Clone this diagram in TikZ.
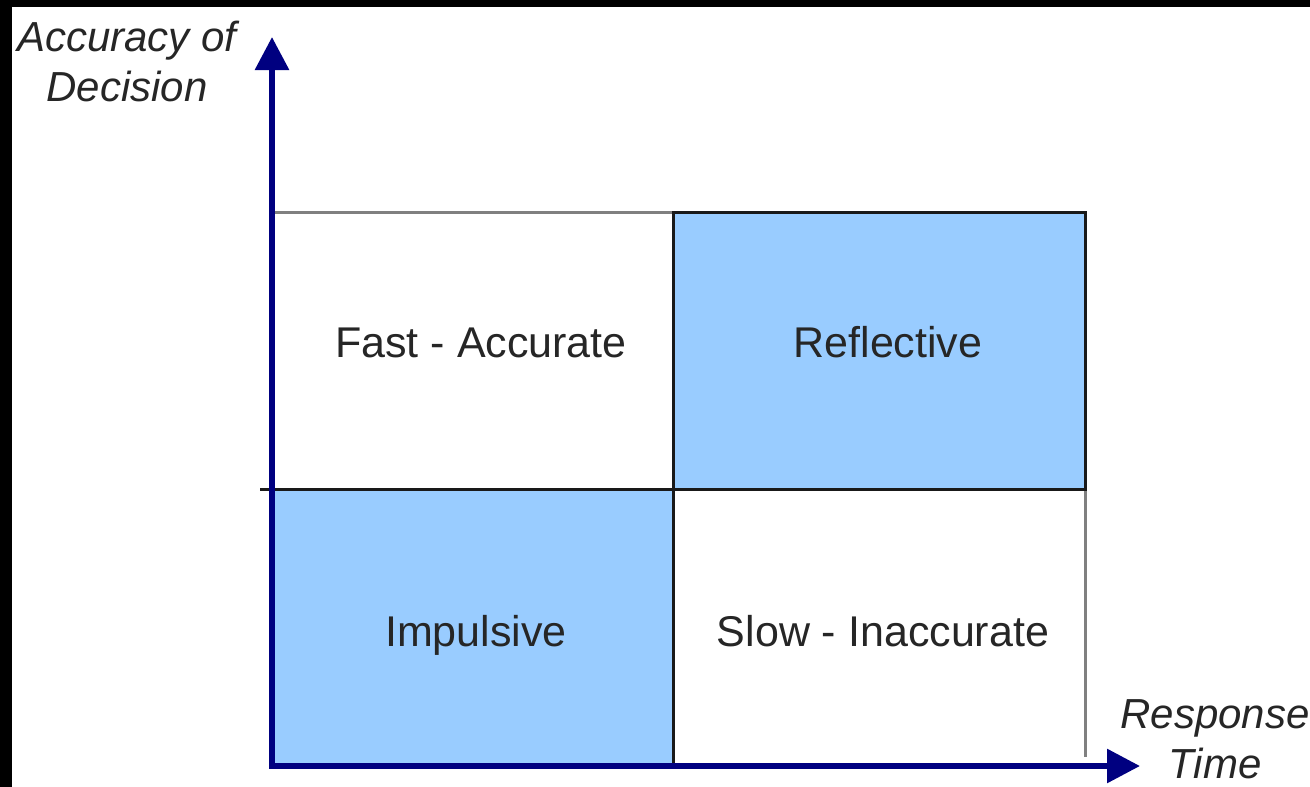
\documentclass[tikz,border=0pt]{standalone}
\usepackage{fontspec}
\setmainfont{Liberation Sans}
\usetikzlibrary{arrows.meta}
\definecolor{axisblue}{HTML}{000080}
\definecolor{cellblue}{HTML}{99CCFF}
\definecolor{gridgray}{HTML}{808080}
\begin{document}
\begin{tikzpicture}[x=1pt,y=-1pt,
  cellbox/.style={draw=black!90,line width=3pt,fill=cellblue,minimum width=412pt,minimum height=277pt,inner sep=0pt,outer sep=0pt},
  celltext/.style={anchor=base,inner sep=0pt,font=\fontsize{43}{50}\selectfont,text=black!85},
  axislabel/.style={anchor=base,inner sep=0pt,align=center,font=\itshape\fontsize{42}{50}\selectfont,text=black!85},
  divider/.style={draw=black!90,line width=3pt},
  thinline/.style={draw=gridgray,line width=3pt},
  axis/.style={draw=axisblue,line width=6pt,-{Triangle[length=33pt,width=33pt]}}
]
\useasboundingbox (0,0) rectangle (1310,787);
\fill[black] (0,0) rectangle (1310,787);
\fill[white] (12,7) rectangle (1310,787);

% coordinates
\coordinate (tl) at (272,212);
\coordinate (tm) at (673,212);
\coordinate (tr) at (1085,212);
\coordinate (ml) at (260,489);
\coordinate (mr) at (1085,489);
\coordinate (bm) at (673,766);
\coordinate (rb) at (1085,757);
\coordinate (origin) at (272,766);
\coordinate (yend) at (272,37);
\coordinate (xstart) at (269,766);
\coordinate (xend) at (1140,766);

% gray outer lines
\draw[thinline] (tl) -- (tm);
\draw[thinline] (mr) -- (rb);

% filled cells
\node[cellbox] (reflectivebox) at (879,350.5) {};
\node[cellbox,minimum width=401pt] (impulsivebox) at (472.5,627.5) {};

% dividers
\draw[divider] (ml) -- (mr);
\draw[divider] (tm) -- (bm);

% cell texts
\node[celltext] (fast) at (481,357) {Fast - Accurate};
\node[celltext] (reflective) at (888,357) {Reflective};
\node[celltext] (impulsive) at (476,646) {Impulsive};
\node[celltext] (slow) at (883,646) {Slow - Inaccurate};

% axes
\draw[axis] (origin) -- (yend);
\draw[axis] (xstart) -- (xend);

% axis labels (base anchor = last line)
\node[axislabel] (ylabel) at (127,101) {Accuracy of\\Decision};
\node[axislabel] (xlabel) at (1215,778) {Response\\Time};
\end{tikzpicture}
\end{document}
